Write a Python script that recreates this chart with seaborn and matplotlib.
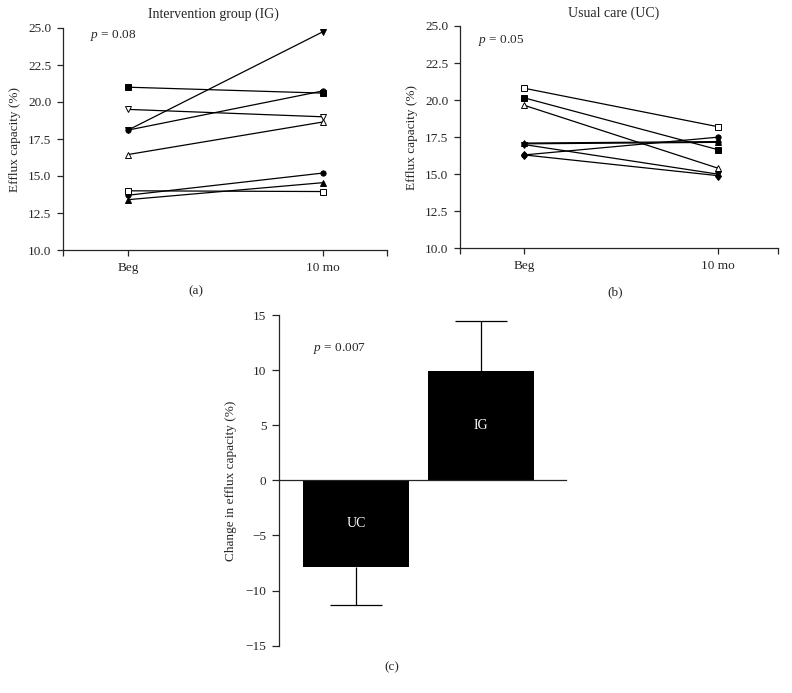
import matplotlib
matplotlib.use("Agg")
import matplotlib.pyplot as plt
import seaborn as sns
import pandas as pd

# ---- data ----
timepoints = ["Beg", "10 mo"]
ig_beg = [21.0, 19.5, 18.1, 18.1, 16.45, 13.7, 13.4, 14.0]
ig_10mo = [20.6, 19.0, 24.75, 20.75, 18.65, 15.2, 14.55, 13.95]
uc_beg = [20.8, 20.15, 19.65, 16.3, 17.1, 17.05, 17.0, 16.3]
uc_10mo = [18.2, 16.65, 15.4, 17.5, 17.2, 17.15, 15.0, 14.9]
groups = ["UC", "IG"]
change_mean = [-7.9, 9.95]
change_err = [3.4, 4.5]
p_values = ["0.08", "0.05", "0.007"]
yticks_ab = [10.0, 12.5, 15.0, 17.5, 20.0, 22.5, 25.0]
yticks_c = [-15, -10, -5, 0, 5, 10, 15]

# marker styles per subject
ig_markers = ["s", "v", "v", "o", "^", "o", "^", "s"]
ig_open = [False, True, False, False, True, False, False, True]
uc_markers = ["s", "s", "^", "o", "^", "o", "v", "d"]
uc_open = [True, False, True, False, False, False, False, False]

sns.set_style("ticks")
plt.rcParams["font.family"] = ["Liberation Serif", "DejaVu Serif"]
plt.rcParams["mathtext.fontset"] = "custom"
plt.rcParams["mathtext.it"] = "Liberation Serif:italic"
plt.rcParams["mathtext.rm"] = "Liberation Serif"
plt.rcParams["font.size"] = 9.5
plt.rcParams["axes.linewidth"] = 0.9
plt.rcParams["xtick.major.width"] = 0.9
plt.rcParams["ytick.major.width"] = 0.9

fig = plt.figure(figsize=(7.92, 6.93), dpi=100)
W, H = 792, 693
ax_a = fig.add_axes([63 / W, 1 - 250 / H, 324 / W, 222 / H])
ax_b = fig.add_axes([460 / W, 1 - 248.3 / H, 318 / W, 222.3 / H])
ax_c = fig.add_axes([279 / W, 1 - 645.7 / H, 286.7 / W, 330.7 / H])


def paired_panel(ax, beg, end, markers, opens, xlim, title, title_xy, ptext, pxy, lab, labxy):
    for b, e, m, o in zip(beg, end, markers, opens):
        df = pd.DataFrame({"x": [0, 1], "y": [b, e]})
        ms = {"^": 4.4, "v": 4.4, "d": 4.4}.get(m, 3.8)
        sns.lineplot(data=df, x="x", y="y", ax=ax, color="black", lw=0.9,
                     marker=m, markersize=ms, markeredgecolor="black",
                     markeredgewidth=0.7,
                     markerfacecolor="white" if o else "black")
    ax.set_xlim(*xlim)
    ax.set_ylim(10, 25)
    ax.set_xticks([xlim[0], 0, 1, xlim[1]])
    ax.set_xticklabels(["", timepoints[0], timepoints[1], ""])
    ax.set_yticks(yticks_ab)
    ax.set_yticklabels([f"{v:.1f}" for v in yticks_ab])
    ax.tick_params(direction="out", length=4.5, pad=4)
    ax.set_xlabel("")
    ax.set_ylabel("Efflux capacity (%)", labelpad=5)
    for s in ("top", "right"):
        ax.spines[s].set_visible(False)
    ax.text(pxy[0], pxy[1], r"$p$ = " + ptext, ha="left", va="center")
    fig.text(title_xy[0] / W, 1 - title_xy[1] / H, title, ha="center", va="center",
             fontsize=10)
    fig.text(labxy[0] / W, 1 - labxy[1] / H, lab, ha="center", va="center")


paired_panel(ax_a, ig_beg, ig_10mo, ig_markers, ig_open, (-0.333, 1.328),
             "Intervention group (IG)", (213, 14), p_values[0], (-0.195, 24.5),
             "(a)", (196, 291))
paired_panel(ax_b, uc_beg, uc_10mo, uc_markers, uc_open, (-0.331, 1.308),
             "Usual care (UC)", (614, 13), p_values[1], (-0.239, 24.05),
             "(b)", (615, 292))

# ---- panel c ----
dfc = pd.DataFrame({"group": groups, "change": change_mean})
sns.barplot(data=dfc, x="group", y="change", order=groups, color="black",
            saturation=1, width=0.853, ax=ax_c, errorbar=None, linewidth=0)
# one-sided error bars (away from zero)
for i, (v, e) in enumerate(zip(change_mean, change_err)):
    tip = v - e if v < 0 else v + e
    ax_c.vlines(i, v, tip, color="black", lw=0.9)
    ax_c.hlines(tip, i - 0.21, i + 0.21, color="black", lw=0.9)
for i, (g, v) in enumerate(zip(groups, change_mean)):
    ax_c.text(i, v / 2, g, color="white", ha="center", va="center", fontsize=10)
ax_c.set_xlim(-0.616, 1.678)
ax_c.set_ylim(-15, 15)
ax_c.set_yticks(yticks_c)
ax_c.spines["bottom"].set_position(("data", 0))
for s in ("top", "right"):
    ax_c.spines[s].set_visible(False)
ax_c.tick_params(axis="x", length=0, labelbottom=False)
ax_c.tick_params(axis="y", direction="out", length=5, pad=4)
ax_c.set_xlabel("")
ax_c.set_ylabel("Change in efflux capacity (%)", labelpad=6)
ax_c.text(-0.344, 12.0, r"$p$ = " + p_values[2], ha="left", va="center")
fig.text(392 / W, 1 - 667 / H, "(c)", ha="center", va="center")

fig.savefig("out.png", dpi=100)
